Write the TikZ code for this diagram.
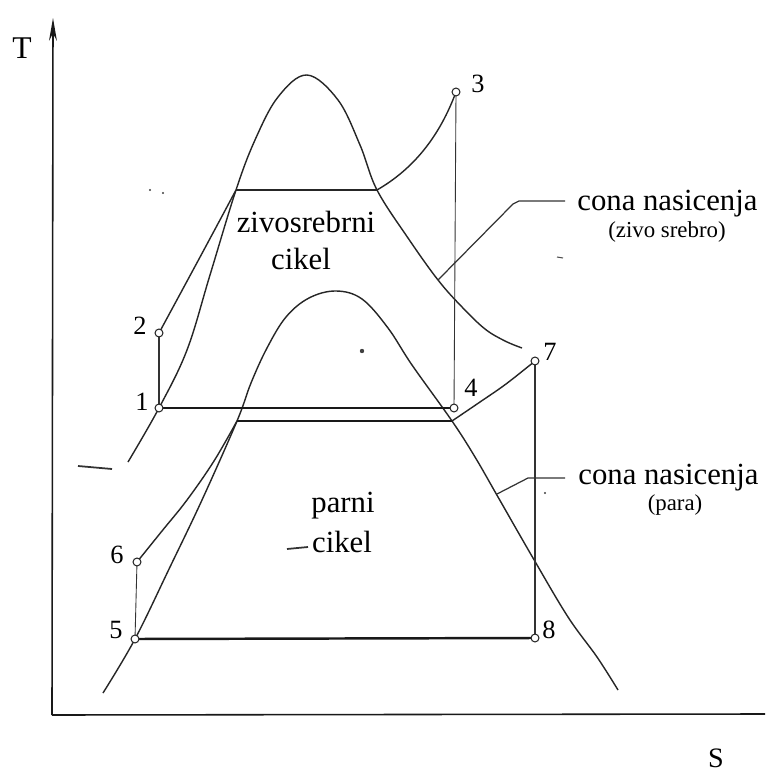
\documentclass[tikz,border=0pt]{standalone}
\usepackage{fontspec}
\setmainfont{Liberation Serif}
\usetikzlibrary{arrows.meta}
\begin{document}
\begin{tikzpicture}[x=0.02cm,y=-0.02cm,
  curve/.style={line width=0.8pt, black!85},
  thinline/.style={line width=0.5pt, black!80},
  heavy/.style={line width=1.4pt, black!90},
  axisline/.style={line width=0.9pt, black!90},
  pt/.style={circle, draw=black!85, fill=white, line width=0.6pt, inner sep=0pt, minimum size=4.5pt},
  num/.style={font=\fontsize{15}{15}\selectfont, anchor=base, inner sep=0pt},
  lbl/.style={font=\fontsize{17.5}{18}\selectfont, anchor=base, inner sep=0pt},
  sub/.style={font=\fontsize{13}{13}\selectfont, anchor=base, inner sep=0pt},
  speck/.style={fill=black!75}]
\useasboundingbox (0,0) rectangle (780,776);
\fill[white] (0,0) rectangle (780,776);

% axes
\coordinate (O) at (52,715);
\coordinate (Ttop) at (53,18);
\coordinate (Send) at (765,714);
\draw[axisline, -{Stealth[length=13pt, width=4.5pt]}] (O) -- (Ttop);
\draw[axisline] (O) -- (Send);
\node[font=\fontsize{18}{18}\selectfont] (Tlab) at (22,48) {T};
\node[font=\fontsize{16}{16}\selectfont] (Slab) at (716,758) {S};

% state points
\coordinate (c1) at (159,408);
\coordinate (c2) at (159,333);
\coordinate (c3) at (456,92);
\coordinate (c4) at (454,408);
\coordinate (c5) at (135,639);
\coordinate (c6) at (137,562);
\coordinate (c7) at (535,361);
\coordinate (c8) at (535,638);
\coordinate (mL) at (236,190);
\coordinate (mR) at (377,190);
\coordinate (sL) at (237,421);
\coordinate (sR) at (452,421);

% mercury saturation dome
\draw[curve] plot[smooth, tension=0.6] coordinates {(128,462) (159,408) (187,350) (210,275) (236,190) (255,140) (278,97) (307,75) (338,100) (360,145) (377,190) (408,238) (438,280) (462,307) (485,329) (505,341) (522,348)};
% steam saturation dome
\draw[curve] plot[smooth, tension=0.6] coordinates {(103,693) (135,639) (170,567) (202,500) (237,421) (251,383) (267,348) (286,317) (309,298) (336,291) (362,299) (388,328) (412,365) (452,421) (475,457) (498,497) (533,558) (568,617) (597,657) (618,690)};

% mercury cycle
\draw[thinline, line width=0.8pt] (c1) -- (c2);
\draw[curve] (c2) .. controls (185,285) and (212,235) .. (mL);
\draw[curve] (mL) -- (mR);
\draw[curve] (mR) .. controls (415,168) and (440,135) .. (c3);
\draw[thinline] (c3) -- (c4);
\draw[heavy] (c4) -- (c1);

% steam cycle
\draw[thinline] (c5) -- (c6);
\draw[curve] plot[smooth, tension=0.6] coordinates {(c6) (162,531) (187,500) (214,461) (sL)};
\draw[heavy, line width=1.1pt] (sL) -- (sR);
\draw[curve] plot[smooth, tension=0.6] coordinates {(sR) (480,402) (506,384) (c7)};
\draw[thinline, line width=0.7pt] (c7) -- (c8);
\draw[heavy] (c8) -- (c5);

% point markers
\foreach \i in {1,...,8} \node[pt] (p\i) at (c\i) {};

% point labels
\node[num] (n1) at (142,410) {1};
\node[num] (n2) at (140,335) {2};
\node[num] (n3) at (478,93) {3};
\node[num] (n4) at (471,397) {4};
\node[num] (n5) at (116,638) {5};
\node[num] (n6) at (117,563) {6};
\node[num] (n7) at (550,360) {7};
\node[num] (n8) at (549,638) {8};

% cycle labels
\node[lbl] (zs) at (306,233) {zivosrebrni};
\node[lbl] (zc) at (301,270) {cikel};
\node[lbl] (pp) at (343,512) {parni};
\node[lbl] (pc) at (342,552) {cikel};
\draw[line width=1pt, black!80] (287,549) -- (308,547);

% saturation-line callouts
\node[lbl, anchor=base west] (cz) at (577,211) {cona nasicenja};
\node[sub] (czs) at (667,238) {(zivo srebro)};
\node[lbl, anchor=base west] (cp) at (578,484) {cona nasicenja};
\node[sub] (cps) at (675,510) {(para)};
\coordinate (lz0) at (438,280);
\coordinate (lz1) at (513,204);
\coordinate (lz2) at (565,201);
\draw[thinline, line width=0.7pt] (lz0) -- (lz1) -- (519,201) -- (lz2);
\coordinate (lp0) at (497,494);
\coordinate (lp1) at (528,478);
\coordinate (lp2) at (565,478);
\draw[thinline, line width=0.7pt] (lp0) -- (lp1) -- (lp2);

% stray marks of the original
\draw[line width=1pt, black!80] (78,466) -- (112,469);
\fill[speck] (362,351) circle (2.2);
\fill[speck] (150,190) circle (1.1);
\fill[speck] (163,193) circle (1.1);
\draw[line width=0.6pt, black!70] (557,257) -- (563,258);
\fill[speck] (545,493) circle (1.1);
\end{tikzpicture}
\end{document}
